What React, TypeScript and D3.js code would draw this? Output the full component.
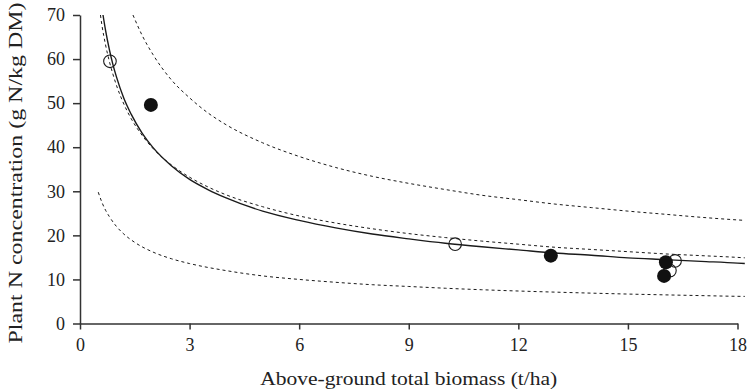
import React, { useRef, useEffect } from 'react';
import * as d3 from 'd3';

// x ticks / y ticks
const xTicks = [0, 3, 6, 9, 12, 15, 18];
const yTicks = [0, 10, 20, 30, 40, 50, 60, 70];

// critical N curve (solid)
const critW = [0.63, 0.7, 0.8, 0.9, 1.0, 1.2, 1.4, 1.7, 2.0, 2.5, 3, 3.5, 4, 5, 6, 7, 8, 9, 10, 11, 12, 13, 14, 15, 16, 17, 18, 18.2];
const critN = [70, 66.5, 62.3, 58.8, 55.9, 51.1, 47.5, 43.2, 39.9, 35.8, 32.7, 30.4, 28.5, 25.5, 23.4, 21.7, 20.3, 19.2, 18.2, 17.4, 16.7, 16.0, 15.5, 14.9, 14.5, 14.1, 13.7, 13.6];

// reference curve (dashed, close to solid)
const refW = [0.56, 0.6, 0.7, 0.8, 0.9, 1.0, 1.2, 1.4, 1.7, 2.0, 2.5, 3, 3.5, 4, 5, 6, 7, 8, 9, 10, 11, 12, 13, 14, 15, 16, 17, 18, 18.2];
const refN = [70, 67.7, 63.2, 59.6, 56.6, 54.0, 49.8, 46.5, 42.7, 39.7, 36.0, 33.2, 31.0, 29.2, 26.5, 24.4, 22.8, 21.5, 20.4, 19.5, 18.7, 18.0, 17.3, 16.8, 16.3, 15.8, 15.4, 15.0, 14.9];

// upper dashed
const upW = [1.45, 1.7, 2.0, 2.5, 3, 3.5, 4, 5, 6, 7, 8, 9, 10, 11, 12, 13, 14, 15, 16, 17, 18, 18.2];
const upN = [70, 65.4, 61.0, 55.3, 51.2, 47.8, 45.1, 41.0, 37.9, 35.4, 33.4, 31.8, 30.4, 29.1, 28.1, 27.1, 26.3, 25.5, 24.8, 24.1, 23.5, 23.4];

// lower dashed
const lowW = [0.5, 0.6, 0.7, 0.8, 1.0, 1.2, 1.5, 2, 2.5, 3, 4, 5, 6, 7, 8, 9, 10, 11, 12, 13, 14, 15, 16, 17, 18, 18.2];
const lowN = [29.8, 27.5, 25.7, 24.3, 22.0, 20.3, 18.4, 16.2, 14.7, 13.6, 12.0, 10.8, 10.0, 9.35, 8.8, 8.4, 8.0, 7.66, 7.37, 7.12, 6.89, 6.68, 6.5, 6.33, 6.17, 6.15];

// observations
const openW = [0.82, 10.27, 16.15, 16.29];
const openN = [59.5, 18.0, 12.0, 14.2];
const fillW = [1.94, 12.89, 16.04, 15.99];
const fillN = [49.6, 15.4, 13.9, 10.8];

const W = 748;
const H = 391;
const margin = { top: 15, right: 10.5, bottom: 67.5, left: 80 };
const font = '"Liberation Serif", "Times New Roman", serif';

const App = () => {
  const svgRef = useRef<SVGSVGElement>(null);

  useEffect(() => {
    const svg = d3.select(svgRef.current);
    svg.selectAll('*').remove();

    const x = d3.scaleLinear().domain([0, 18]).range([margin.left, W - margin.right]);
    const y = d3.scaleLinear().domain([0, 70]).range([H - margin.bottom, margin.top]);

    const g = svg.append('g');

    // axes
    const xAxis = g.append('g')
      .attr('transform', `translate(0,${y(0)})`)
      .call(d3.axisBottom(x).tickValues(xTicks).tickSize(6).tickPadding(9).tickSizeOuter(0));
    const yAxis = g.append('g')
      .attr('transform', `translate(${x(0)},0)`)
      .call(d3.axisLeft(y).tickValues(yTicks).tickSize(7).tickPadding(8).tickSizeOuter(0));

    [xAxis, yAxis].forEach(a => {
      a.select('.domain').attr('stroke', '#333').attr('stroke-width', 1.5);
      a.selectAll('.tick line').attr('stroke', '#333').attr('stroke-width', 1.5);
      a.selectAll('.tick text')
        .attr('fill', '#222')
        .style('font-family', font)
        .style('font-size', '18px');
    });

    // curves
    const line = d3.line<[number, number]>()
      .x(d => x(d[0]))
      .y(d => y(d[1]))
      .curve(d3.curveMonotoneX);

    const curves = [
      { w: upW, n: upN, dash: '3,3', sw: 1 },
      { w: refW, n: refN, dash: '3,3', sw: 1 },
      { w: lowW, n: lowN, dash: '3,3', sw: 1 },
      { w: critW, n: critN, dash: null, sw: 1.4 },
    ];
    curves.forEach(c => {
      const pts = c.w.map((v, i) => [v, c.n[i]] as [number, number]);
      g.append('path')
        .attr('d', line(pts))
        .attr('fill', 'none')
        .attr('stroke', '#1a1a1a')
        .attr('stroke-width', c.sw)
        .attr('stroke-dasharray', c.dash);
    });

    // open circles
    g.selectAll('.open')
      .data(openW)
      .enter()
      .append('circle')
      .attr('cx', d => x(d))
      .attr('cy', (d, i) => y(openN[i]))
      .attr('r', 6.3)
      .attr('fill', 'none')
      .attr('stroke', '#1a1a1a')
      .attr('stroke-width', 1.1);

    // filled circles
    g.selectAll('.fill')
      .data(fillW)
      .enter()
      .append('circle')
      .attr('cx', d => x(d))
      .attr('cy', (d, i) => y(fillN[i]))
      .attr('r', 7)
      .attr('fill', '#111');

    // axis titles
    g.append('text')
      .attr('x', (x(0) + x(18)) / 2)
      .attr('y', 385)
      .attr('text-anchor', 'middle')
      .attr('textLength', 297)
      .attr('lengthAdjust', 'spacingAndGlyphs')
      .style('font-family', font)
      .style('font-size', '19px')
      .attr('fill', '#222')
      .text('Above-ground total biomass (t/ha)');

    g.append('text')
      .attr('transform', 'translate(22,173) rotate(-90)')
      .attr('text-anchor', 'middle')
      .attr('textLength', 341)
      .attr('lengthAdjust', 'spacingAndGlyphs')
      .style('font-family', font)
      .style('font-size', '19px')
      .attr('fill', '#222')
      .text('Plant N concentration (g N/kg DM)');
  }, []);

  return (
    <svg
      ref={svgRef}
      width={W}
      height={H}
      style={{ position: 'absolute', left: 0, top: 0, background: '#fff' }}
    />
  );
};

export default App;
